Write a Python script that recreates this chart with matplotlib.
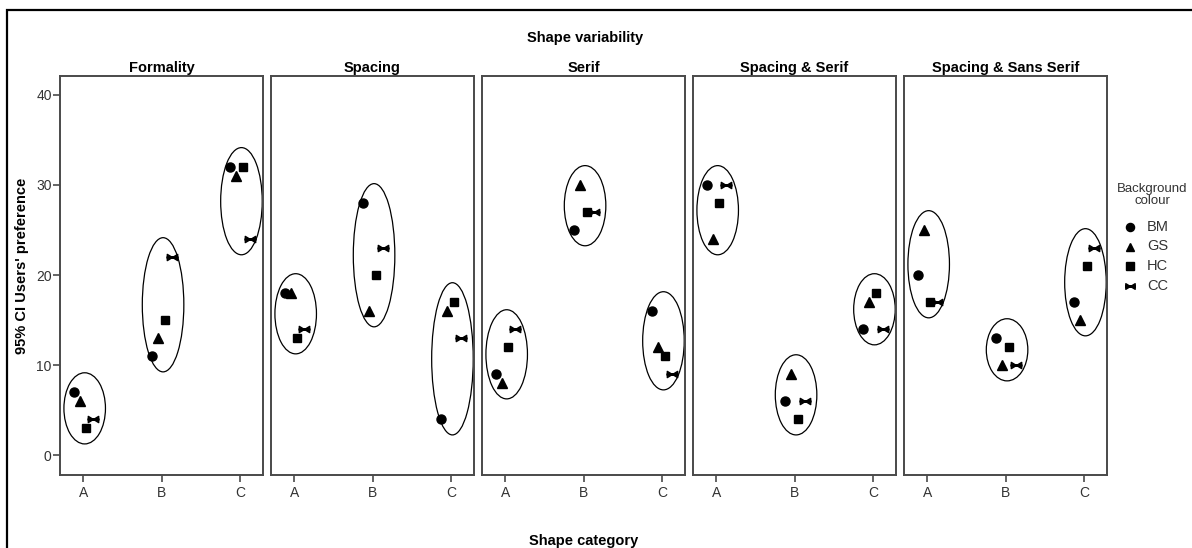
import matplotlib
matplotlib.use("Agg")
import matplotlib.pyplot as plt
from matplotlib.patches import Ellipse, Rectangle
from matplotlib.path import Path
from matplotlib.lines import Line2D

plt.rcParams['font.family'] = ['Liberation Sans', 'DejaVu Sans']

# ---- data -------------------------------------------------------------
panels = ["Formality", "Spacing", "Serif", "Spacing & Serif", "Spacing & Sans Serif"]
categories = ["A", "B", "C"]
series = ["BM", "GS", "HC", "CC"]

# values per panel, ordered by category A, B, C
bm = [[7, 11, 32], [18, 28, 4], [9, 25, 16], [30, 6, 14], [20, 13, 17]]
gs = [[6, 13, 31], [18, 16, 16], [8, 30, 12], [24, 9, 17], [25, 10, 15]]
hc = [[3, 15, 32], [13, 20, 17], [12, 27, 11], [28, 4, 18], [17, 12, 21]]
cc = [[4, 22, 24], [14, 23, 13], [14, 27, 9], [30, 6, 14], [17, 10, 23]]

yticks = [0, 10, 20, 30, 40]

# ---- styling ----------------------------------------------------------
bowtie = Path(
    [(-1, 0.6), (-1, -0.6), (0, 0), (-1, 0.6),
     (1, 0.6), (1, -0.6), (0, 0), (1, 0.6),
     (-1, 0.12), (1, 0.12), (1, -0.12), (-1, -0.12), (-1, 0.12)],
    [Path.MOVETO, Path.LINETO, Path.LINETO, Path.CLOSEPOLY,
     Path.MOVETO, Path.LINETO, Path.LINETO, Path.CLOSEPOLY,
     Path.MOVETO, Path.LINETO, Path.LINETO, Path.LINETO, Path.CLOSEPOLY])

markers = {"BM": ("o", 6.5), "GS": ("^", 7.0), "HC": ("s", 5.8), "CC": (bowtie, 7.5)}
x_shift = {"BM": -0.12, "GS": -0.045, "HC": 0.04, "CC": 0.13}
values = {"BM": bm, "GS": gs, "HC": hc, "CC": cc}

spine_col = "#4a4a4a"
tick_col = "#333333"

W, H = 1192, 548
fig = plt.figure(figsize=(W / 100, H / 100), dpi=100)

left0, pw, gap = 60, 203, 211
top_px, bot_px = 76, 475

for p, name in enumerate(panels):
    ax = fig.add_axes([(left0 + p * gap) / W, 1 - bot_px / H, pw / W, (bot_px - top_px) / H])
    ax.set_xlim(-0.295, 2.295)
    ax.set_ylim(-2.2, 42.1)
    for s in series:
        mk, ms = markers[s]
        for i in range(len(categories)):
            ax.plot(i + x_shift[s], values[s][p][i], marker=mk, ms=ms, color="black",
                    mec="black", ls="none", zorder=3)
    # enclosing ellipse for each category group
    for i in range(len(categories)):
        grp = [values[s][p][i] for s in series]
        lo, hi = min(grp), max(grp)
        e = Ellipse((i + 0.02, (lo + hi) / 2 + 0.2), 0.53, (hi - lo) + 3.9,
                    fill=False, ec="black", lw=0.9, zorder=2)
        ax.add_patch(e)
    for sp in ax.spines.values():
        sp.set_color(spine_col)
        sp.set_linewidth(1.4)
    ax.set_xticks(range(len(categories)))
    ax.set_xticklabels(categories)
    ax.tick_params(axis="x", length=5, width=1.2, color=spine_col, labelsize=10,
                   labelcolor=tick_col, pad=3)
    if p == 0:
        ax.set_yticks(yticks)
        ax.tick_params(axis="y", length=5, width=1.2, color=spine_col, labelsize=10,
                       labelcolor=tick_col, pad=1)
    else:
        ax.set_yticks([])
    ax.set_title(name, fontsize=10.5, fontweight="bold", pad=3)

fig.text(585 / W, 1 - 38 / H, "Shape variability", ha="center", va="center",
         fontsize=10.5, fontweight="bold")
fig.text(584 / W, 1 - 541 / H, "Shape category", ha="center", va="center",
         fontsize=10.5, fontweight="bold")
fig.text(22 / W, 1 - 266 / H, "95% CI Users' preference", ha="center", va="center",
         rotation=90, fontsize=10.5, fontweight="bold")

# legend: title block and one row per background colour
fig.text(1152 / W, 1 - 195 / H, "Background\ncolour", ha="center", va="center",
         fontsize=9.5, color=tick_col, linespacing=1.05)
row0, row_step = 227, 19.5
for k, s in enumerate(series):
    yk = 1 - (row0 + k * row_step) / H
    fig.add_artist(Line2D([1130 / W], [yk], marker=markers[s][0], ms=markers[s][1] * 0.9,
                          color="black", ls="none", transform=fig.transFigure))
    fig.text(1147 / W, yk, s, ha="left", va="center", fontsize=10.5, color=tick_col)

# outer frame
fig.patches.append(Rectangle((7 / W, -0.1), 1.2, 1 - 10 / H + 0.1, transform=fig.transFigure,
                             fill=False, ec="black", lw=1.6))

fig.savefig("out.png", dpi=100)
